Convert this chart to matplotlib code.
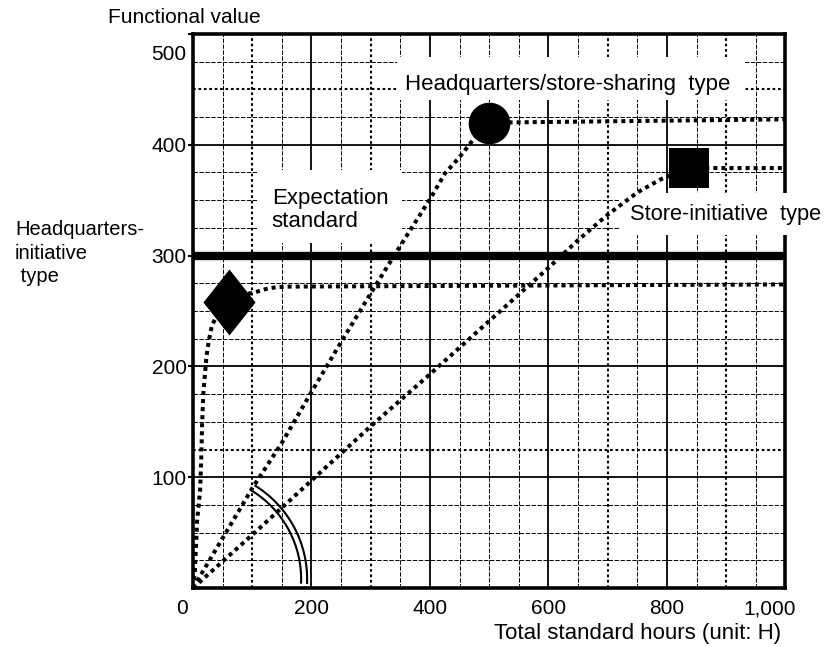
import matplotlib
matplotlib.use("Agg")
import matplotlib.pyplot as plt
from matplotlib.patches import Arc, Rectangle
from matplotlib.path import Path
from matplotlib.transforms import ScaledTranslation

plt.rcParams['font.family'] = ['Liberation Sans', 'DejaVu Sans']

# ---------------------------------------------------------------- data
x_ticks = [0, 200, 400, 600, 800, 1000]
x_tick_labels = ['0', '200', '400', '600', '800', '1,000']
y_ticks = [100, 200, 300, 400, 500]
y_tick_labels = ['100', '200', '300', '400', '500']

# Headquarters-initiative type
hq_x = [0, 3, 5, 7, 12, 14, 15.5, 17.5, 20, 23, 27, 32, 44, 60, 80, 105, 124, 141, 158, 1000]
hq_y = [0, 14, 37, 61, 88, 118, 150, 176, 192, 210, 224, 237, 250, 258, 264, 267, 270, 271.5, 272, 274]
hq_point = (60, 258)

# Headquarters/store-sharing type
share_x = [0, 50, 100, 150, 200, 250, 300, 350, 400, 425, 450, 475, 500, 1000]
share_y = [0, 45, 90, 131, 177, 222, 266, 309, 351, 374, 389, 406, 420, 423]
share_point = (500, 420)

# Store-initiative type
store_x = [0, 100, 200, 300, 400, 500, 550, 600, 650, 700, 750, 790, 837, 1000]
store_y = [0, 48, 97, 146, 193, 241, 265, 289, 314, 337, 357, 369, 379, 379]
store_point = (837, 379)

# Expectation standard
expectation_level = 300

# ---------------------------------------------------------------- figure
fig = plt.figure(figsize=(8.37, 6.47), dpi=100)
ax = fig.add_axes([193 / 837, 59 / 647, 592.5 / 837, 554 / 647])
ax.set_xlim(0, 1000)
ax.set_ylim(0, 500)

# grid: solid majors, heavier dotted lines and fine dashed lines
solid_x = [200, 400, 600, 800]
solid_y = [100, 200, 400]
dotted_x = [100, 300, 700, 900]
dotted_y = [125, 450]
dashed_x = [v for v in range(50, 1000, 50) if v not in solid_x + dotted_x]
dashed_y = [v for v in range(25, 500, 25) if v not in solid_y + dotted_y + [expectation_level]]

for v in dashed_x:
    ax.axvline(v, color='black', lw=0.7, ls=(0, (4.5, 1.6)), zorder=1)
for v in dashed_y:
    ax.axhline(v, color='black', lw=0.7, ls=(0, (4.5, 1.6)), zorder=1)
for v in dotted_x:
    ax.axvline(v, color='black', lw=1.5, ls=(0, (1.3, 1.3)), zorder=1.2)
for v in dotted_y:
    ax.axhline(v, color='black', lw=1.5, ls=(0, (1.3, 1.3)), zorder=1.2)
for v in solid_x:
    ax.axvline(v, color='black', lw=1.3, zorder=1.5)
for v in solid_y:
    ax.axhline(v, color='black', lw=1.3, zorder=1.5)

ax.axhline(expectation_level, color='black', lw=6, zorder=2)

for s in ax.spines.values():
    s.set_linewidth(2.6)
    s.set_zorder(2.5)

# ticks
ax.set_xticks(x_ticks)
ax.set_xticklabels(x_tick_labels)
ax.set_yticks(y_ticks)
ax.set_yticklabels(y_tick_labels)
ax.tick_params(axis='x', length=0, pad=8, labelsize=15)
ax.tick_params(axis='y', direction='out', length=3.5, width=1.5, pad=1, labelsize=15)

def shift(label, dx_px, dy_px):
    label.set_transform(label.get_transform() +
                        ScaledTranslation(dx_px / 100, dy_px / 100, fig.dpi_scale_trans))

xl = ax.get_xticklabels()
shift(xl[0], -11, 0)
shift(xl[-1], -16, 0)
yl = ax.get_yticklabels()
shift(yl[-1], 0, -19)

# white label boxes
boxes = [
    (344, 440, 588, 39),    # Headquarters/store-sharing type
    (108, 311, 245, 66),    # Expectation standard
    (721, 318.5, 354, 38),  # Store-initiative type
]
for x0, y0, w, h in boxes:
    ax.add_patch(Rectangle((x0, y0), w, h, facecolor='white', edgecolor='none',
                           zorder=3, clip_on=False))

# series lines
line_kw = dict(color='black', lw=2.9, ls=(0, (1, 1)), zorder=4)
ax.plot(hq_x, hq_y, **line_kw)
ax.plot(share_x, share_y, **line_kw)
ax.plot(store_x, store_y, **line_kw)

# markers
diamond = Path([(0, 1), (0.79, 0), (0, -1), (-0.79, 0), (0, 1)],
               [Path.MOVETO, Path.LINETO, Path.LINETO, Path.LINETO, Path.CLOSEPOLY])
ax.plot([hq_point[0]], [hq_point[1]], marker=diamond, ms=47.5, color='black',
        mew=0, zorder=5, clip_on=False)
ax.plot([share_point[0]], [share_point[1]], marker='o', ms=30, color='black',
        mew=0, zorder=5, clip_on=False)
ax.plot([store_point[0]], [store_point[1]], marker='s', ms=28.8, color='black',
        mew=0, zorder=5, clip_on=False)

# double arc near the origin
arc_trans = fig.dpi_scale_trans + ScaledTranslation(7, 8, ax.transData)
for r in (1.04, 1.10):
    ax.add_patch(Arc((0, 0), 2 * r, 2 * r, theta1=-2.5, theta2=58.6,
                     transform=arc_trans, color='black', lw=1.5, zorder=4))

# texts
ax.text(358, 454, 'Headquarters/store-sharing  type', ha='left', va='center',
        fontsize=16, zorder=6)
ax.text(133, 341, 'Expectation\nstandard', ha='left', va='center',
        fontsize=16, linespacing=1.15, zorder=6)
ax.text(738, 337, 'Store-initiative  type', ha='left', va='center',
        fontsize=15.7, zorder=6, clip_on=False)

ax.text(-0.1435, 1.029, 'Functional value', transform=ax.transAxes,
        ha='left', va='center', fontsize=15)
ax.text(0.992, -0.083, 'Total standard hours (unit: H)', transform=ax.transAxes,
        ha='right', va='center', fontsize=16)
ax.text(-0.3004, 0.664, 'Headquarters-\ninitiative\n type', transform=ax.transAxes,
        ha='left', va='top', fontsize=14.5, linespacing=1.3)

fig.savefig('out.png', dpi=100)
